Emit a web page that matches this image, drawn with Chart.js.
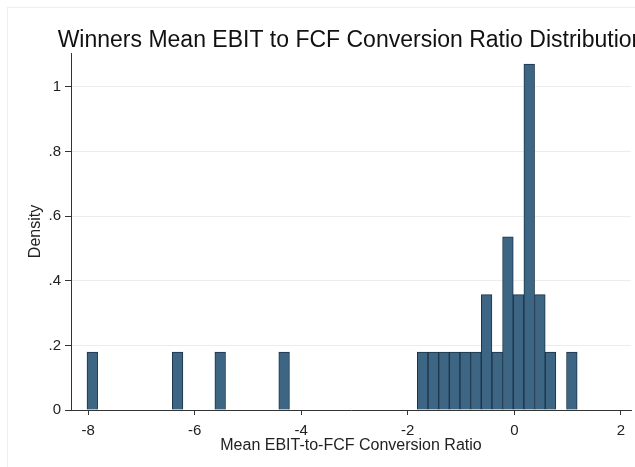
<!DOCTYPE html>
<html>
<head>
<meta charset="utf-8">
<script src="https://cdn.jsdelivr.net/npm/chart.js@4"></script>
<style>
  html, body { margin: 0; padding: 0; background: #fff; overflow: hidden; }
  #wrap { position: relative; width: 635px; height: 467px; }
  #frame { position: absolute; left: 7px; top: 7px; width: 700px; height: 500px;
           border-left: 1px solid #eeeeee; border-top: 1px solid #eeeeee; pointer-events: none; }
  canvas { position: absolute; left: 0; top: 0; }
</style>
</head>
<body>
<div id="wrap">
  <canvas id="hist" width="635" height="467"></canvas>
  <div id="frame"></div>
</div>
<script>
// histogram bins (centres, width 0.2) and densities
var binCenters = [-7.92, -6.32, -5.52, -4.32,
                  -1.72, -1.52, -1.32, -1.12, -0.92, -0.72, -0.52, -0.32, -0.12,
                  0.08, 0.28, 0.48, 0.68, 1.08];
var densities = [0.179, 0.179, 0.179, 0.179,
                 0.179, 0.179, 0.179, 0.179, 0.179, 0.179, 0.357, 0.179, 0.536,
                 0.357, 1.071, 0.357, 0.179, 0.179];

var xTicks = [-8, -6, -4, -2, 0, 2];
var xTickLabels = ['-8', '-6', '-4', '-2', '0', '2'];
var yTicks = [0, 0.2, 0.4, 0.6, 0.8, 1];
var yTickLabels = ['0', '.2', '.4', '.6', '.8', '1'];

var chartTitle = 'Winners Mean EBIT to FCF Conversion Ratio Distribution';
var xTitle = 'Mean EBIT-to-FCF Conversion Ratio';
var yTitle = 'Density';

var points = binCenters.map(function (c, i) { return { x: c, y: densities[i] }; });

var fontFamily = "'Liberation Sans', Arial, sans-serif";

// Stata centres the title over the plot region, not the whole graph
var plotTitle = {
    id: 'plotTitle',
    afterDraw: function (chart) {
        var ctx = chart.ctx;
        var area = chart.chartArea;
        ctx.save();
        ctx.font = '23px ' + fontFamily;
        ctx.fillStyle = '#111';
        ctx.textAlign = 'center';
        ctx.textBaseline = 'alphabetic';
        ctx.fillText(chartTitle, (area.left + area.right) / 2, 47);
        ctx.restore();
    }
};

new Chart(document.getElementById('hist'), {
    type: 'bar',
    data: {
        datasets: [{
            label: yTitle,
            data: points,
            backgroundColor: '#3d6684',
            borderColor: '#1b3347',
            borderWidth: 1,
            barPercentage: 1,
            categoryPercentage: 1
        }]
    },
    plugins: [plotTitle],
    options: {
        responsive: false,
        animation: false,
        layout: { padding: { left: 0, right: 4, top: 53, bottom: 0 } },
        plugins: {
            legend: { display: false },
            title: { display: false },
            tooltip: { enabled: false }
        },
        scales: {
            x: {
                type: 'linear',
                offset: false,
                min: -8.32,
                max: 2.19,
                afterBuildTicks: function (axis) {
                    axis.ticks = xTicks.map(function (v) { return { value: v }; });
                },
                afterFit: function (axis) { axis.height = 57; },
                ticks: {
                    autoSkip: false,
                    maxRotation: 0,
                    padding: 7,
                    color: '#222',
                    font: { family: fontFamily, size: 15 },
                    callback: function (v) { return xTickLabels[xTicks.indexOf(v)]; }
                },
                grid: {
                    offset: false,
                    drawOnChartArea: false,
                    tickLength: 5,
                    tickColor: '#333'
                },
                border: { color: '#333', width: 1 },
                title: {
                    display: true,
                    text: xTitle,
                    color: '#222',
                    font: { family: fontFamily, size: 16 },
                    padding: { top: 0, bottom: 12 }
                }
            },
            y: {
                type: 'linear',
                min: 0,
                max: 1.105,
                afterBuildTicks: function (axis) {
                    axis.ticks = yTicks.map(function (v) { return { value: v }; });
                },
                afterFit: function (axis) { axis.width = 71; },
                ticks: {
                    padding: 4,
                    color: '#222',
                    font: { family: fontFamily, size: 15 },
                    callback: function (v) { return yTickLabels[yTicks.indexOf(v)]; }
                },
                grid: {
                    color: '#ececec',
                    tickLength: 6,
                    tickColor: '#333'
                },
                border: { color: '#333', width: 1 },
                title: {
                    display: true,
                    text: yTitle,
                    color: '#222',
                    font: { family: fontFamily, size: 16 },
                    padding: { top: 26, bottom: 0 }
                }
            }
        }
    }
});
</script>
</body>
</html>
